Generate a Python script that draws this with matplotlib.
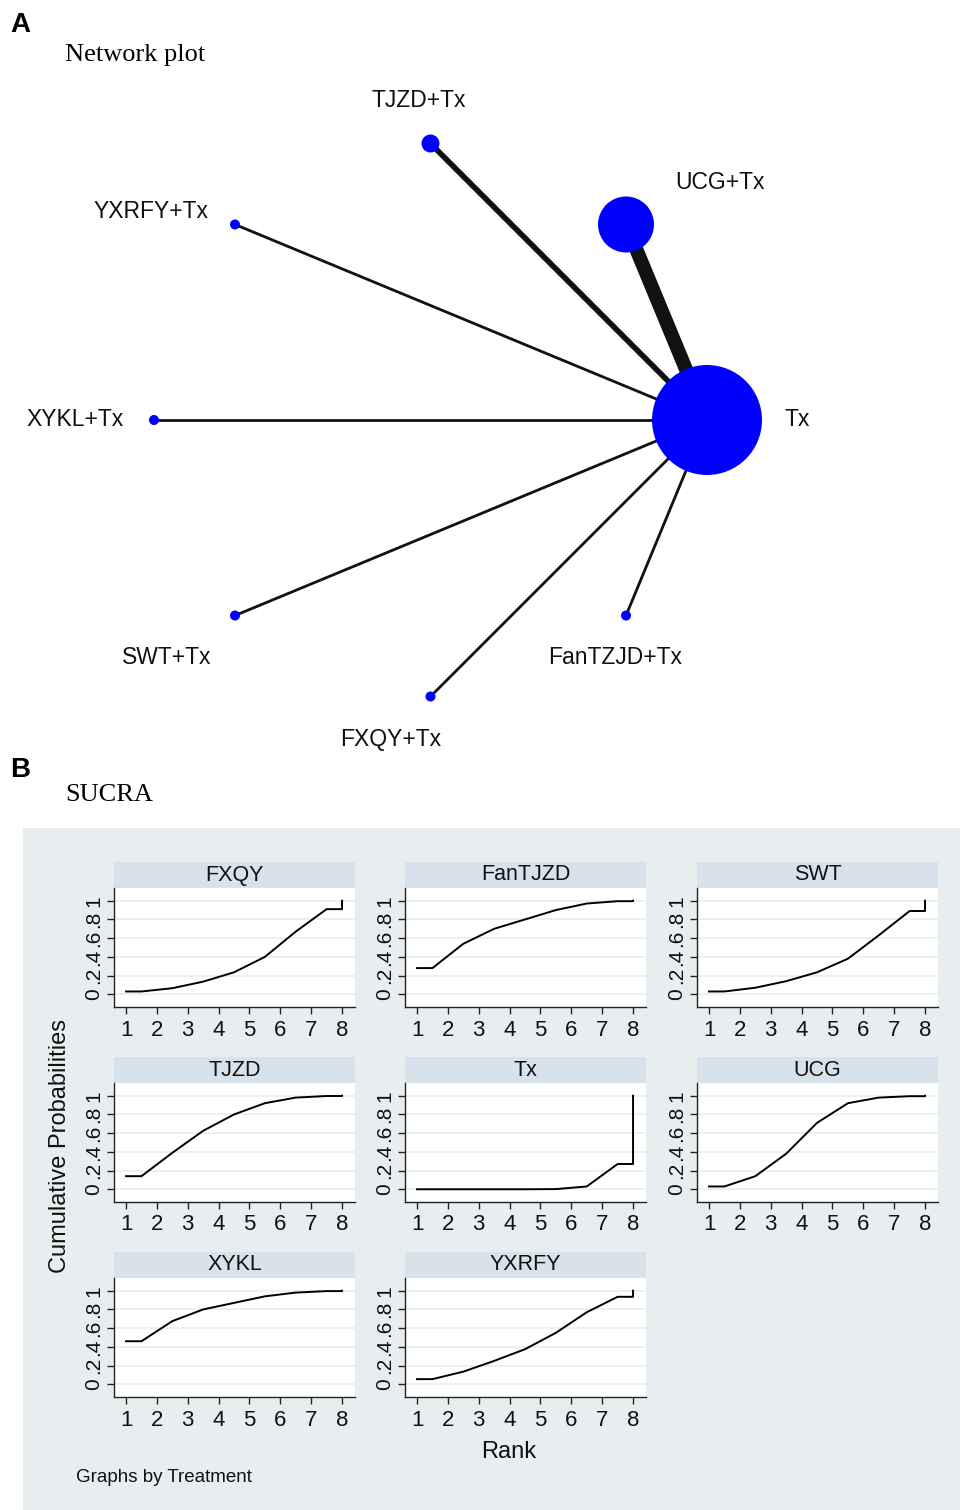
import numpy as np
import matplotlib
matplotlib.use("Agg")
import matplotlib.pyplot as plt
from matplotlib.patches import Rectangle

W, H = 960, 1510

# ---- network data ----
nodes = ["Tx", "UCG+Tx", "TJZD+Tx", "YXRFY+Tx", "XYKL+Tx", "SWT+Tx", "FXQY+Tx", "FanTZJD+Tx"]
node_patients = [1100, 560, 180, 100, 100, 100, 100, 100]   # drives node size
edge_studies = [5, 2, 1, 1, 1, 1, 1]                        # Tx vs each other node
# label offsets (pixels) from node centre
label_dx = [78, 94, -12, -84, -79, -68, -40, -11]
label_dy = [0, 42, 43, 13, 0, -42, -43, -42]

# ---- SUCRA data (cumulative probability by rank) ----
ranks = [1, 2, 3, 4, 5, 6, 7, 8]
treatments = ["FXQY", "FanTJZD", "SWT", "TJZD", "Tx", "UCG", "XYKL", "YXRFY"]
fxqy = [0.03, 0.065, 0.135, 0.235, 0.40, 0.67, 0.91, 1.0]
fantjzd = [0.28, 0.54, 0.70, 0.80, 0.90, 0.97, 0.995, 1.0]
swt = [0.03, 0.07, 0.14, 0.235, 0.38, 0.63, 0.89, 1.0]
tjzd = [0.14, 0.39, 0.625, 0.80, 0.92, 0.98, 0.997, 1.0]
tx = [0.0, 0.0, 0.0, 0.0, 0.002, 0.03, 0.27, 1.0]
ucg = [0.03, 0.14, 0.38, 0.71, 0.92, 0.98, 0.995, 1.0]
xykl = [0.46, 0.675, 0.80, 0.87, 0.94, 0.98, 0.996, 1.0]
yxrfy = [0.055, 0.135, 0.25, 0.375, 0.55, 0.77, 0.935, 1.0]
cum_probs = [fxqy, fantjzd, swt, tjzd, tx, ucg, xykl, yxrfy]

PX = 0.72  # points per pixel at dpi 100

fig = plt.figure(figsize=(W / 100, H / 100), dpi=100)
fig.patch.set_facecolor("white")


def fx(x):
    return x / W


def fy(y):
    return 1 - y / H


# ================= A: network plot =================
fig.text(fx(10), fy(25), "A", fontsize=20, fontweight="bold", family="Liberation Sans", va="center")
fig.text(fx(65), fy(55), "Network plot", fontsize=19, family="Liberation Serif", va="center")

R = 276.5
cx, cy = 430.5, 420
ax = fig.add_axes([0, 1 - 760 / H, 1, 760 / H])
ax.set_xlim(-cx / R, (W - cx) / R)
ax.set_ylim(-(760 - cy) / R, cy / R)
ax.axis("off")

angles = np.deg2rad(np.arange(len(nodes)) * 45)
xs, ys = np.cos(angles), np.sin(angles)

for i, n in enumerate(edge_studies):
    ax.plot([xs[0], xs[i + 1]], [ys[0], ys[i + 1]], color="#111111",
            lw=n * 2.8 * PX, solid_capstyle="butt", zorder=1)

diam = np.array(node_patients) / 10.0
ax.scatter(xs, ys, s=(diam * PX) ** 2, color="#0000ff", edgecolors="none", zorder=3)

for i, name in enumerate(nodes):
    ax.annotate(name, (xs[i], ys[i]), xytext=(label_dx[i], label_dy[i]),
                textcoords="offset pixels", ha="center" if i != 0 else "left",
                va="center", fontsize=16.5, family="Liberation Sans", color="#111111")

# ================= B: SUCRA =================
fig.text(fx(10), fy(770), "B", fontsize=20, fontweight="bold", family="Liberation Sans", va="center")
fig.text(fx(65), fy(795), "SUCRA", fontsize=19, family="Liberation Serif", va="center")

bg = "#e8eef0"
strip = "#d8e2ea"
fig.patches.append(Rectangle((fx(23), 0), 1 - fx(23), fy(828), transform=fig.transFigure,
                             facecolor=bg, edgecolor="none", zorder=-5))

col_left = [114, 405, 697]
row_top = [888, 1083, 1278]
pw, ph = 241, 119
strip_h = 26

for k, (name, c) in enumerate(zip(treatments, cum_probs)):
    r, col = divmod(k, 3)
    a = fig.add_axes([fx(col_left[col]), fy(row_top[r] + ph), pw / W, ph / H])
    a.set_zorder(2)
    a.set_facecolor("white")
    xp = [ranks[0]] + [v + 0.5 for v in ranks[:-1]] + [ranks[-1], ranks[-1]]
    yp = [c[0]] + c[:-1] + [c[-2], c[-1]]
    a.plot(xp, yp, color="black", lw=1.4, zorder=3)
    a.set_xlim(0.61, 8.42)
    a.set_ylim(-0.136, 1.136)
    a.set_xticks(ranks)
    a.set_yticks([0, 0.2, 0.4, 0.6, 0.8, 1.0])
    a.set_yticklabels(["0", ".2", ".4", ".6", ".8", "1"])
    a.grid(axis="y", color="#eaf0f3", lw=1.4)
    a.set_axisbelow(True)
    for s in ["top", "right"]:
        a.spines[s].set_visible(False)
    for s in ["left", "bottom"]:
        a.spines[s].set_color("#222222")
        a.spines[s].set_linewidth(1.0)
    a.tick_params(axis="x", length=5, width=1, color="#222222", labelsize=16,
                  labelcolor="#111111", pad=4)
    a.tick_params(axis="y", length=5, width=1, color="#222222", labelsize=15,
                  labelcolor="#111111", labelrotation=90, pad=3)
    for t in a.get_xticklabels() + a.get_yticklabels():
        t.set_family("Liberation Sans")
    for t in a.get_yticklabels():
        t.set_va("center")
    a.add_patch(Rectangle((0, 1), 1, strip_h / ph, transform=a.transAxes, facecolor=strip,
                          edgecolor="none", clip_on=False))
    a.text(0.5, 1 + strip_h / ph / 2, name, transform=a.transAxes, ha="center", va="center",
           fontsize=15.5, family="Liberation Sans", color="#111111")

fig.text(fx(60), fy(1146), "Cumulative Probabilities", rotation=90, ha="center", va="center",
         fontsize=17, family="Liberation Sans", color="#111111")
fig.text(fx(509), fy(1452), "Rank", ha="center", va="center", fontsize=17,
         family="Liberation Sans", color="#111111")
fig.text(fx(76), fy(1478), "Graphs by Treatment", ha="left", va="center", fontsize=13.5,
         family="Liberation Sans", color="#111111")

fig.savefig("out.png", dpi=100, facecolor="white")
